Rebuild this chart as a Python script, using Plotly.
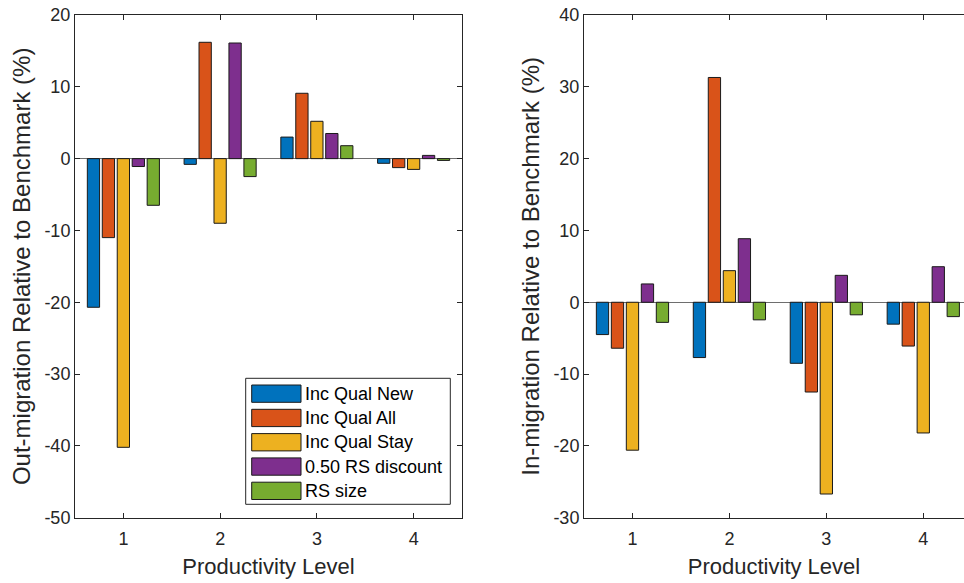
import plotly.graph_objects as go

# ---------------- data ----------------
levels = [1, 2, 3, 4]
series_names = ["Inc Qual New", "Inc Qual All", "Inc Qual Stay", "0.50 RS discount", "RS size"]
series_colors = ["#0072BD", "#D95319", "#EDB120", "#7E2F8E", "#77AC30"]

out_new = [-20.7, -0.8, 3.0, -0.65]
out_all = [-11.0, 16.2, 9.1, -1.25]
out_stay = [-40.2, -9.0, 5.2, -1.5]
out_disc = [-1.1, 16.1, 3.5, 0.45]
out_size = [-6.5, -2.5, 1.8, -0.25]

in_new = [-4.5, -7.7, -8.5, -3.05]
in_all = [-6.4, 31.3, -12.5, -6.1]
in_stay = [-20.6, 4.4, -26.7, -18.2]
in_disc = [2.55, 8.85, 3.75, 4.95]
in_size = [-2.8, -2.45, -1.75, -2.0]

out_series = [out_new, out_all, out_stay, out_disc, out_size]
in_series = [in_new, in_all, in_stay, in_disc, in_size]

left_yticks = [20, 10, 0, -10, -20, -30, -40, -50]
right_yticks = [40, 30, 20, 10, 0, -10, -20, -30]
xtick_labels = ["1", "2", "3", "4"]

W, H = 964, 583
FONT = "Liberation Sans, Arial, Helvetica, sans-serif"
TXT = "#262626"

def px(x):
    return x / W

def py(y):
    return 1 - y / H

fig = go.Figure()
for name, color, vals in zip(series_names, series_colors, out_series):
    fig.add_trace(go.Bar(x=levels, y=vals, name=name, marker=dict(color=color, line=dict(color="#1a1a1a", width=1)),
                         xaxis="x", yaxis="y", showlegend=False))
for name, color, vals in zip(series_names, series_colors, in_series):
    fig.add_trace(go.Bar(x=levels, y=vals, name=name, marker=dict(color=color, line=dict(color="#1a1a1a", width=1)),
                         xaxis="x2", yaxis="y2", showlegend=False))

ydom = [py(517.7), py(15)]
axis_common = dict(ticks="inside", ticklen=5, tickcolor=TXT, linecolor=TXT, linewidth=1,
                   showgrid=False, automargin=False, tickfont=dict(size=18, color=TXT, family=FONT))
xtitle_font = dict(size=22, color=TXT, family=FONT)
ytitle_font = dict(size=24, color=TXT, family=FONT)

fig.update_layout(
    width=W, height=H,
    margin=dict(l=0, r=0, t=0, b=0),
    paper_bgcolor="white", plot_bgcolor="white",
    barmode="group", bargap=0.227, bargroupgap=0.18,
    font=dict(family=FONT, color=TXT),
    xaxis=dict(domain=[px(75), px(462)], range=[0.5, 4.5], tickvals=levels, ticktext=xtick_labels,
               showline=True, mirror="ticks", zeroline=False, anchor="y", ticklabelstandoff=5,
               title=dict(text="Productivity Level", font=xtitle_font, standoff=10),
               **axis_common),
    yaxis=dict(domain=ydom, range=[-50, 20], tickvals=left_yticks, ticktext=[str(v) for v in left_yticks],
               showline=True, mirror="ticks", zeroline=True, zerolinecolor="#6e6e6e", zerolinewidth=1,
               anchor="x",
               title=dict(text="Out-migration Relative to Benchmark (%)", font=ytitle_font, standoff=6),
               **axis_common),
    xaxis2=dict(domain=[px(584), 1.0], range=[0.5, 4.42], tickvals=levels, ticktext=xtick_labels,
                showline=True, mirror="ticks", zeroline=False, anchor="y2", ticklabelstandoff=5,
                title=dict(text="Productivity Level", font=xtitle_font, standoff=10),
                **axis_common),
    yaxis2=dict(domain=ydom, range=[-30, 40], tickvals=right_yticks, ticktext=[str(v) for v in right_yticks],
                showline=True, mirror=False, zeroline=True, zerolinecolor="#6e6e6e", zerolinewidth=1,
                anchor="x2",
                title=dict(text="In-migration Relative to Benchmark (%)", font=ytitle_font, standoff=6),
                **axis_common),
)

# ---------------- manual legend (MATLAB style wide swatches) ----------------
box_x0, box_x1, box_y0, box_y1 = 245.7, 450.3, 378.3, 504.3
fig.add_shape(type="rect", xref="paper", yref="paper",
              x0=px(box_x0), x1=px(box_x1), y0=py(box_y1), y1=py(box_y0),
              line=dict(color=TXT, width=1), fillcolor="white", layer="above")
pitch = 24.3
for i, (name, color) in enumerate(zip(series_names, series_colors)):
    top = 385 + i * pitch
    fig.add_shape(type="rect", xref="paper", yref="paper",
                  x0=px(251.7), x1=px(301), y0=py(top + 17.3), y1=py(top),
                  line=dict(color="#1a1a1a", width=1), fillcolor=color, layer="above")
    fig.add_annotation(xref="paper", yref="paper", x=px(303), y=py(top + 8.8),
                       text=name, showarrow=False, xanchor="left", yanchor="middle",
                       font=dict(size=18, color="#000000", family=FONT))

fig.write_html("out.html")
